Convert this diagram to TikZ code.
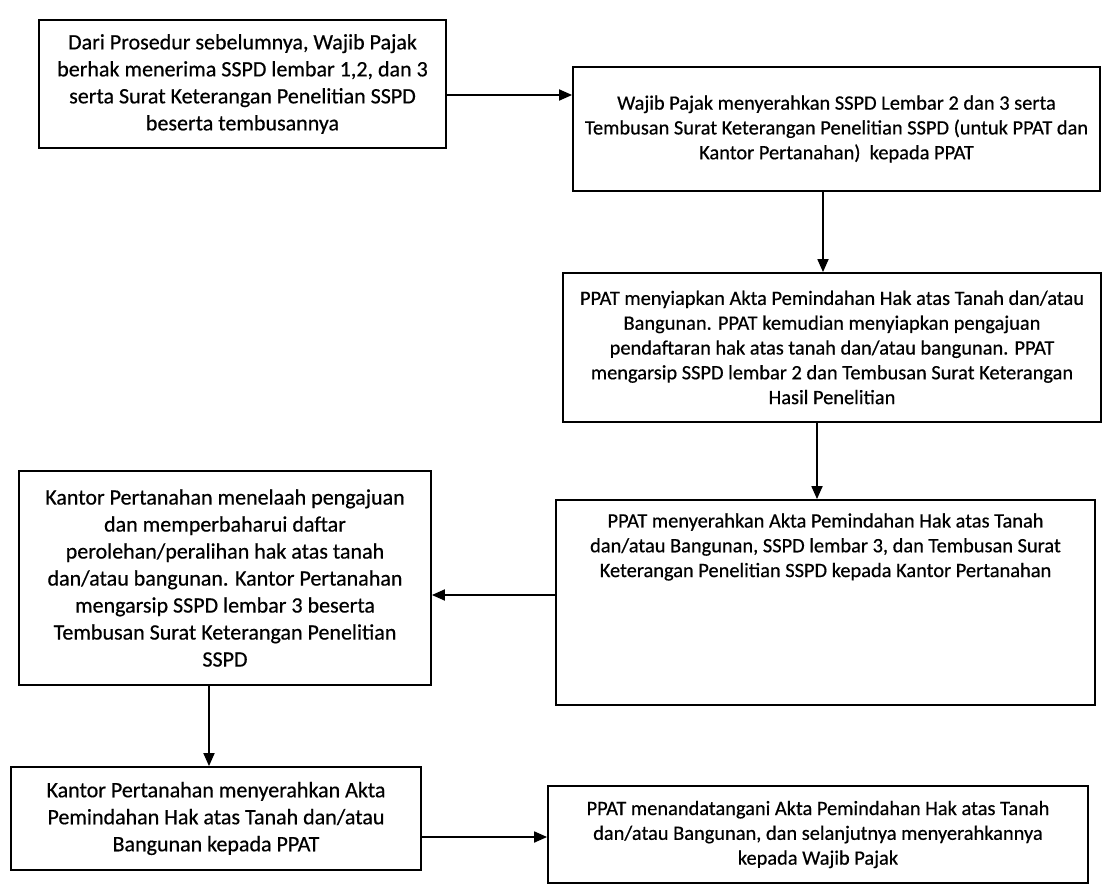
\documentclass[tikz,border=0pt]{standalone}
\usepackage{fontspec}
\setmainfont{Carlito}[FakeBold=0.5]
\usetikzlibrary{arrows.meta}
\begin{document}
\begin{tikzpicture}[x=1pt,y=-1pt,
  procbox/.style={draw=black, line width=1.8pt, rectangle, inner sep=0pt, align=center, text=black},
  bigtxt/.style={font=\fontsize{22}{27}\selectfont},
  smalltxt/.style={font=\fontsize{20.4}{24.8}\selectfont},
  flow/.style={draw=black, line width=1.8pt, -{Triangle[length=13pt,width=11pt]}}]
\useasboundingbox (0,0) rectangle (1104,891);
\fill[white] (0,0) rectangle (1104,891);

\node[procbox, bigtxt, minimum width=407pt, minimum height=128pt] (b1) at (242.5,84)
  {Dari Prosedur sebelumnya, Wajib Pajak\\berhak menerima SSPD lembar 1,2, dan 3\\serta Surat Keterangan Penelitian SSPD\\beserta tembusannya};

\node[procbox, smalltxt, minimum width=527pt, minimum height=124pt] (b2) at (836.5,129)
  {Wajib Pajak menyerahkan SSPD Lembar 2 dan 3 serta\\Tembusan Surat Keterangan Penelitian SSPD (untuk PPAT dan\\Kantor Pertanahan)\ \ kepada PPAT};

\node[procbox, smalltxt, minimum width=538pt, minimum height=149pt] (b3) at (832,347.5)
  {PPAT menyiapkan Akta Pemindahan Hak atas Tanah dan/atau\\Bangunan. PPAT kemudian menyiapkan pengajuan\\pendaftaran hak atas tanah dan/atau bangunan. PPAT\\mengarsip SSPD lembar 2 dan Tembusan Surat Keterangan\\Hasil Penelitian};

\node[procbox, minimum width=539pt, minimum height=205pt] (b4) at (825.5,602.5) {};
\node[smalltxt, align=center, inner sep=0pt, anchor=north, text=black] (t4) at ([yshift=-14pt]b4.north)
  {PPAT menyerahkan Akta Pemindahan Hak atas Tanah\\dan/atau Bangunan, SSPD lembar 3, dan Tembusan Surat\\Keterangan Penelitian SSPD kepada Kantor Pertanahan};

\node[procbox, bigtxt, minimum width=412pt, minimum height=214pt] (b5) at (225,578)
  {Kantor Pertanahan menelaah pengajuan\\dan memperbaharui daftar\\perolehan/peralihan hak atas tanah\\dan/atau bangunan. Kantor Pertanahan\\mengarsip SSPD lembar 3 beserta\\Tembusan Surat Keterangan Penelitian\\SSPD};

\node[procbox, bigtxt, minimum width=410pt, minimum height=103pt] (b6) at (216,818.5)
  {Kantor Pertanahan menyerahkan Akta\\Pemindahan Hak atas Tanah dan/atau\\Bangunan kepada PPAT};

\node[procbox, smalltxt, minimum width=540pt, minimum height=97pt] (b7) at (818,834.5)
  {PPAT menandatangani Akta Pemindahan Hak atas Tanah\\dan/atau Bangunan, dan selanjutnya menyerahkannya\\kepada Wajib Pajak};

\draw[flow] (b1.east |- 0,95) -- (b2.west |- 0,95);
\draw[flow] (b2.south -| 823,0) -- (b3.north -| 823,0);
\draw[flow] (b3.south -| 817,0) -- (b4.north -| 817,0);
\draw[flow] (b4.west |- 0,595) -- (b5.east |- 0,595);
\draw[flow] (b5.south -| 209,0) -- (b6.north -| 209,0);
\draw[flow] (b6.east |- 0,837) -- (b7.west |- 0,837);
\end{tikzpicture}
\end{document}
